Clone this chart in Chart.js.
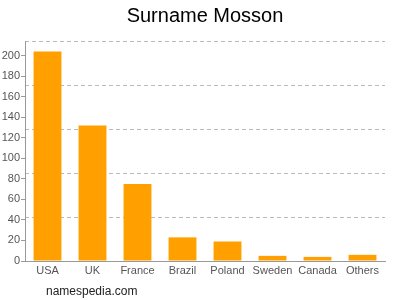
<!DOCTYPE html>
<html>
<head>
<meta charset="utf-8">
<script src="https://cdn.jsdelivr.net/npm/chart.js@4"></script>
<style>
  html, body { margin: 0; padding: 0; background: #fff; }
  #wrap { position: relative; width: 400px; height: 300px; }
  #rodape {
    position: absolute; left: 46px; top: 284px;
    font: 12px "Liberation Sans", Arial, sans-serif; color: #222;
  }
</style>
</head>
<body>
<div id="wrap">
  <canvas id="grafico" width="400" height="300"></canvas>
  <div id="rodape">namespedia.com</div>
</div>
<script>
// === DADOS ===
const paises  = ['USA', 'UK', 'France', 'Brazil', 'Poland', 'Sweden', 'Canada', 'Others'];
const valores = [204, 132, 75, 23, 19, 5, 4, 6];
const eixoMax = 214.2; // topo do eixo (um pouco acima do maior valor)

const fonte = '"Liberation Sans", Arial, sans-serif';

new Chart(document.getElementById('grafico'), {
  type: 'bar',
  data: {
    labels: paises,
    datasets: [{
      data: valores,
      backgroundColor: '#ffa000',
      borderWidth: 0,
      barPercentage: 0.62,
      categoryPercentage: 1
    }]
  },
  options: {
    responsive: false,
    animation: false,
    layout: { padding: { top: 0, right: 0, bottom: 20, left: 0 } },
    plugins: {
      legend: { display: false },
      tooltip: { enabled: false },
      title: {
        display: true,
        text: 'Surname Mosson',
        color: '#000',
        font: { family: fonte, size: 20, weight: 'normal' },
        padding: { top: 4, bottom: 13 }
      }
    },
    scales: {
      x: {
        grid: { display: false, drawTicks: false },
        border: { color: '#999' },
        ticks: {
          color: '#555', font: { family: fonte, size: 11 }, padding: 3,
          maxRotation: 0, minRotation: 0, autoSkip: false
        },
        afterFit: s => { s.height = 19; }
      },
      y: {
        min: 0,
        max: eixoMax,
        border: { color: '#999' },
        grid: { drawOnChartArea: false, drawTicks: true, tickLength: 4, color: '#999' },
        ticks: { stepSize: 20, color: '#555', font: { family: fonte, size: 11 }, padding: 1 },
        // só múltiplos de 20 (sem o rótulo do topo)
        afterBuildTicks: s => { s.ticks = s.ticks.filter(t => t.value % 20 === 0); },
        afterFit: s => { s.width = 25; }
      },
      // eixo escondido só para as linhas tracejadas (5 divisões iguais)
      grade: {
        position: 'right',
        min: 0,
        max: eixoMax,
        border: { display: false, dash: [4, 3] },
        grid: { color: '#bbb', drawTicks: false },
        ticks: { display: false, stepSize: eixoMax / 5 },
        afterFit: s => { s.width = 15; }
      }
    }
  },
  plugins: [{
    // centraliza o título sobre a área do gráfico
    id: 'tituloCentro',
    afterLayout(chart) { chart.titleBlock.left += 10; }
  }]
});
</script>
</body>
</html>
